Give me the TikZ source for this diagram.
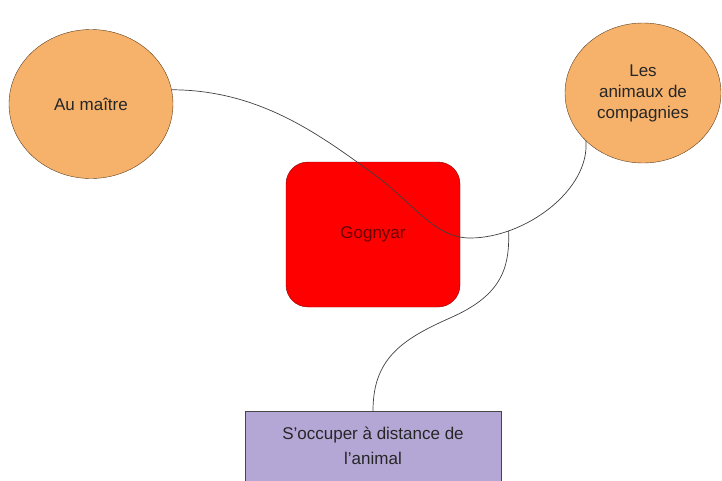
\documentclass[tikz,border=0pt]{standalone}
\usepackage{fontspec}
\setmainfont{Liberation Sans}
\usetikzlibrary{shapes.geometric,positioning}
\definecolor{orangefill}{RGB}{246,178,107}
\definecolor{orangeline}{RGB}{95,62,30}
\definecolor{redline}{RGB}{140,0,0}
\definecolor{redtext}{RGB}{105,0,0}
\definecolor{lilacfill}{RGB}{180,167,214}
\definecolor{lilacline}{RGB}{70,70,70}

\begin{document}
\begin{tikzpicture}[x=1pt,y=-1pt,
                    bubble/.style={ellipse,draw=orangeline,fill=orangefill,inner sep=0pt,
                      align=center,text=black!85,font=\fontsize{17}{21}\selectfont},
                    core/.style={draw=redline,fill=red,rounded corners=22pt,inner sep=0pt,
                      text=redtext,font=\fontsize{17}{21}\selectfont},
                    task/.style={draw=lilacline,fill=lilacfill,inner sep=0pt,align=center,
                      text=black!85,font=\fontsize{17}{25}\selectfont},
                    link/.style={draw=black!75,line width=0.7pt}]

  \useasboundingbox (0,0) rectangle (722,480);
  \clip (0,0) rectangle (722,480);

  \node[bubble,minimum width=164pt,minimum height=149pt] at(91,104) (maitre) {Au maître};
  \node[bubble,minimum width=156pt,minimum height=140pt] at(643,93) (animaux) {Les\\animaux de\\compagnies};
  \node[core,minimum width=174pt,minimum height=145pt] at(373,234.5) (gognyar) {Gognyar};
  \node[task,minimum width=256pt,minimum height=70pt] at(373,446) (soccuper) {S’occuper à distance de\\l’animal};

  \path[link] (maitre.10) .. controls (260,90) and (320,135) .. (375,175)
        .. controls (415,205) and (435,238) .. (470,238)
        .. controls (525,238) and (590,190) .. (animaux.220) coordinate[pos=0.23] (jn);
  \path[link] (soccuper.north) .. controls (373,360) and (400,340) .. (450,318)
        .. controls (500,296) and (510,270) .. (jn);

\end{tikzpicture}
\end{document}
